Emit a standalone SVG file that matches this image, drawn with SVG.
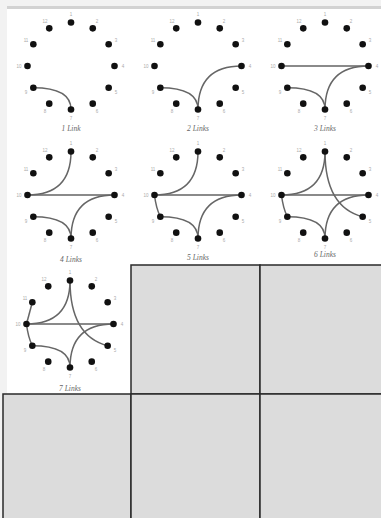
<svg xmlns="http://www.w3.org/2000/svg" xmlns:xlink="http://www.w3.org/1999/xlink" width="381" height="518" viewBox="0 0 381 518">
<style>
.dot{fill:#111}
.lbl{font-family:"Liberation Sans",Arial,sans-serif;font-size:4.5px;fill:#aaa;text-anchor:middle;dominant-baseline:central}
.cap{font-family:"Liberation Serif","Times New Roman",serif;font-style:italic;font-size:7.5px;fill:#666;text-anchor:middle}
.lk{fill:none;stroke:#666;stroke-width:1.5}
.hz{fill:none;stroke:#8a8a8a;stroke-width:2.2}
.box{fill:#dcdcdc;stroke:#2a2a2a;stroke-width:1.5}
</style>
<defs>
<g id="ring">
<circle class="dot" cx="0" cy="-43.5" r="3.3"/>
<circle class="dot" cx="21.75" cy="-37.67" r="3.3"/>
<circle class="dot" cx="37.67" cy="-21.75" r="3.3"/>
<circle class="dot" cx="43.5" cy="0" r="3.3"/>
<circle class="dot" cx="37.67" cy="21.75" r="3.3"/>
<circle class="dot" cx="21.75" cy="37.67" r="3.3"/>
<circle class="dot" cx="0" cy="43.5" r="3.3"/>
<circle class="dot" cx="-21.75" cy="37.67" r="3.3"/>
<circle class="dot" cx="-37.67" cy="21.75" r="3.3"/>
<circle class="dot" cx="-43.5" cy="0" r="3.3"/>
<circle class="dot" cx="-37.67" cy="-21.75" r="3.3"/>
<circle class="dot" cx="-21.75" cy="-37.67" r="3.3"/>
<text class="lbl" x="0" y="-52">1</text>
<text class="lbl" x="26" y="-45">2</text>
<text class="lbl" x="45" y="-26">3</text>
<text class="lbl" x="52" y="0">4</text>
<text class="lbl" x="45" y="26">5</text>
<text class="lbl" x="26" y="45">6</text>
<text class="lbl" x="0" y="52">7</text>
<text class="lbl" x="-26" y="45">8</text>
<text class="lbl" x="-45" y="26">9</text>
<text class="lbl" x="-52" y="0">10</text>
<text class="lbl" x="-45" y="-26">11</text>
<text class="lbl" x="-26" y="-45">12</text>
</g>
<path id="l97" d="M-37.67,21.75 Q0,21.75 0,43.5"/>
<path id="l74" d="M0,43.5 Q0,0 43.5,0"/>
<path id="l104" d="M-43.5,0 H43.5"/>
<path id="l110" d="M0,-43.5 Q0,0 -43.5,0"/>
<path id="l109" d="M-43.5,0 Q-42,13 -37.67,21.75"/>
<path id="l15" d="M0,-43.5 Q0,12 37.67,21.75"/>
<path id="l1011" d="M-43.5,0 L-37.67,-21.75"/>
</defs>
<rect x="0" y="0" width="381" height="518" fill="#ffffff"/>
<rect x="0" y="0" width="381" height="6" fill="#f2f2f2"/>
<rect x="0" y="0" width="7" height="518" fill="#f2f2f2"/>
<rect x="7" y="6" width="374" height="3" fill="#d2d2d2"/>

<g id="connectors">
<g transform="translate(71,66)"><use href="#l97" class="lk"/></g>
<g transform="translate(198,66)"><use href="#l97" class="lk"/><use href="#l74" class="lk"/></g>
<g transform="translate(325,66)"><use href="#l104" class="hz"/><use href="#l97" class="lk"/><use href="#l74" class="lk"/></g>
<g transform="translate(71,195)"><use href="#l104" class="hz"/><use href="#l97" class="lk"/><use href="#l74" class="lk"/><use href="#l110" class="lk"/></g>
<g transform="translate(198,195)"><use href="#l104" class="hz"/><use href="#l97" class="lk"/><use href="#l74" class="lk"/><use href="#l110" class="lk"/><use href="#l109" class="lk"/></g>
<g transform="translate(325,195)"><use href="#l104" class="hz"/><use href="#l97" class="lk"/><use href="#l74" class="lk"/><use href="#l110" class="lk"/><use href="#l109" class="lk"/><use href="#l15" class="lk"/></g>
<g transform="translate(70,324)"><use href="#l104" class="hz"/><use href="#l97" class="lk"/><use href="#l74" class="lk"/><use href="#l110" class="lk"/><use href="#l109" class="lk"/><use href="#l15" class="lk"/><use href="#l1011" class="lk"/></g>
</g>

<g id="cell1"><use href="#ring" x="71" y="66"/><text class="cap" x="71" y="131">1 Link</text></g>
<g id="cell2"><use href="#ring" x="198" y="66"/><text class="cap" x="198" y="131">2 Links</text></g>
<g id="cell3"><use href="#ring" x="325" y="66"/><text class="cap" x="325" y="131">3 Links</text></g>
<g id="cell4"><use href="#ring" x="71" y="195"/><text class="cap" x="71" y="262">4 Links</text></g>
<g id="cell5"><use href="#ring" x="198" y="195"/><text class="cap" x="198" y="260">5 Links</text></g>
<g id="cell6"><use href="#ring" x="325" y="195"/><text class="cap" x="325" y="257">6 Links</text></g>
<g id="cell7"><use href="#ring" x="70" y="324"/><text class="cap" x="70" y="391">7 Links</text></g>

<g id="boxes">
<rect class="box" x="131" y="265" width="129" height="129"/>
<rect class="box" x="260" y="265" width="122" height="129"/>
<rect class="box" x="3" y="394" width="128" height="125"/>
<rect class="box" x="131" y="394" width="129" height="125"/>
<rect class="box" x="260" y="394" width="122" height="125"/>
</g>
</svg>
